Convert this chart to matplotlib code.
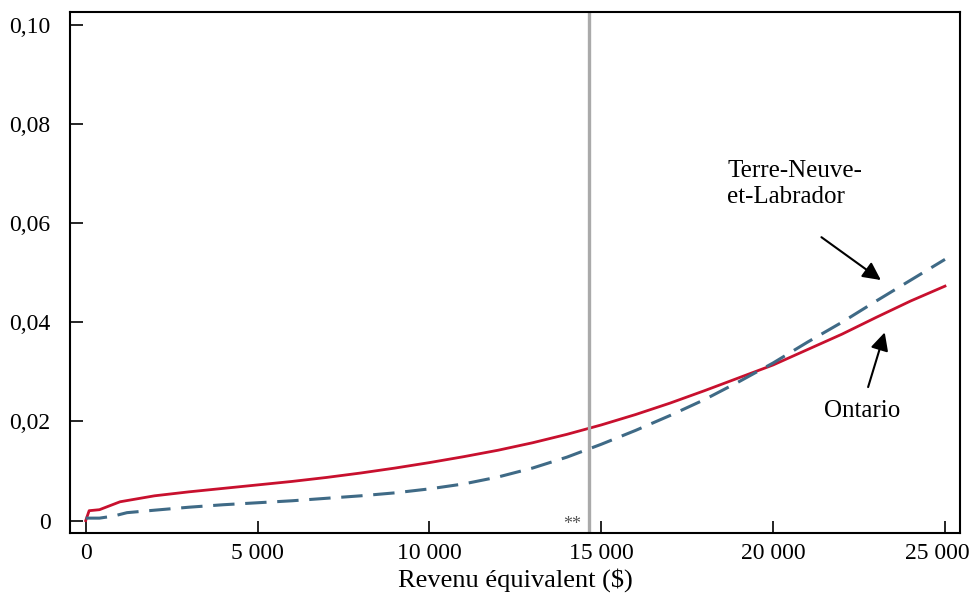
import numpy as np
import matplotlib.pyplot as plt
import matplotlib.transforms as mtransforms
from matplotlib.ticker import FuncFormatter

plt.rcParams['font.family'] = ['Liberation Serif', 'DejaVu Serif']

# Ontario (solid red)
on_x = [0, 100, 400, 1000, 2000, 3000, 4000, 5000, 6000, 7000, 8000, 9000,
        10000, 11000, 12000, 13000, 14000, 15000, 16000, 17000, 18000,
        19000, 20000, 21000, 22000, 23000, 24000, 25000]
on_y = [0.0, 0.0020, 0.0022, 0.0038, 0.0050, 0.0058, 0.0065, 0.0072, 0.0079,
        0.0087, 0.0096, 0.0106, 0.0117, 0.0129, 0.0142, 0.0157, 0.0174,
        0.0193, 0.0214, 0.0237, 0.0262, 0.0288, 0.0314, 0.0345, 0.0376,
        0.0410, 0.0443, 0.0473]

# Terre-Neuve-et-Labrador (dashed blue)
nl_x = [0, 400, 800, 1200, 2000, 3000, 4000, 5000, 6000, 7000, 8000, 9000,
        10000, 11000, 12000, 13000, 14000, 15000, 16000, 17000, 18000,
        19000, 20000, 21000, 22000, 23000, 24000, 25000]
nl_y = [0.0005, 0.0005, 0.0009, 0.0016, 0.0021, 0.0027, 0.0032, 0.0036,
        0.0040, 0.0045, 0.0050, 0.0056, 0.0064, 0.0074, 0.0088, 0.0106,
        0.0128, 0.0154, 0.0182, 0.0212, 0.0244, 0.0280, 0.0318, 0.0360,
        0.0400, 0.0443, 0.0485, 0.0527]

cutoff = 14656
x_ticks = [0, 5000, 10000, 15000, 20000, 25000]
y_ticks = [0, 0.02, 0.04, 0.06, 0.08, 0.10]

fig = plt.figure(figsize=(9.69, 5.97), dpi=100)
ax = fig.add_axes([70/969, 1-533/597, 890/969, 521/597])

ax.plot(on_x, on_y, color='#c8102e', lw=2.0)
ax.plot(nl_x, nl_y, color='#3f6a86', lw=2.2, dashes=(7, 3.5))
ax.axvline(cutoff, color='#aaaaaa', lw=2.4)
ax.text(cutoff - 250, -0.0008, '**', color='#555555', fontsize=13, ha='right', va='center')

ax.set_xlim(-457, 25437)
ax.set_ylim(-0.0025, 0.1026)
ax.set_xticks(x_ticks)
ax.set_yticks(y_ticks)
ax.xaxis.set_major_formatter(FuncFormatter(lambda v, p: f"{int(v):,}".replace(',', ' ')))
ax.yaxis.set_major_formatter(FuncFormatter(lambda v, p: '0' if v == 0 else f"{v:.2f}".replace('.', ',')))
ax.tick_params(direction='in', length=9, width=1.2, labelsize=17, pad=7)
ax.tick_params(axis='y', pad=14)
for s in ax.spines.values():
    s.set_linewidth(1.5)
ax.set_xlabel('Revenu équivalent ($)', fontsize=19, labelpad=3)

# last x label pulled left so it stays inside the figure
last = ax.get_xticklabels()[-1]
last.set_transform(last.get_transform() + mtransforms.ScaledTranslation(-8/100, 0, fig.dpi_scale_trans))

ax.text(18660, 0.0728, 'Terre-Neuve-\net-Labrador', fontsize=18, ha='left', va='top',
        linespacing=1.25)
ax.annotate('', xy=(23200, 0.0482), xytext=(21340, 0.0575),
            arrowprops=dict(arrowstyle='-|>', color='black', lw=1.5, mutation_scale=27))
ax.text(22600, 0.0222, 'Ontario', fontsize=18, ha='center', va='center')
ax.annotate('', xy=(23270, 0.0385), xytext=(22740, 0.0264),
            arrowprops=dict(arrowstyle='-|>', color='black', lw=1.5, mutation_scale=27))

fig.savefig('out.png', dpi=100)
